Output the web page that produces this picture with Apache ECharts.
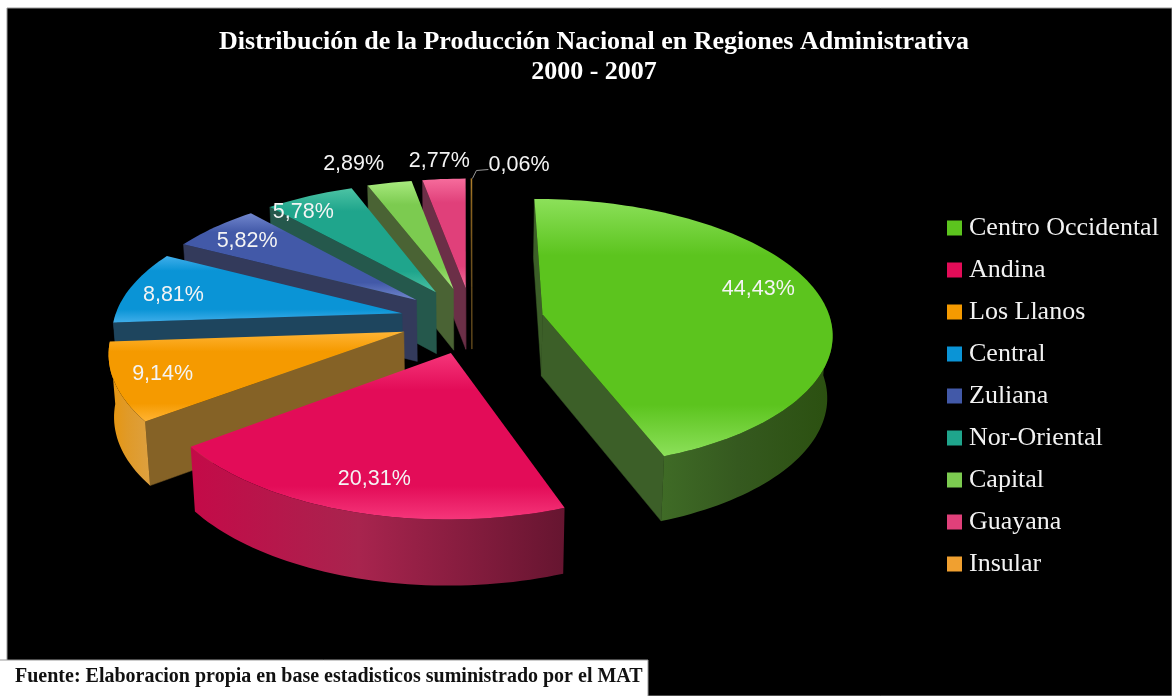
<!DOCTYPE html>
<html><head><meta charset="utf-8">
<script src="https://cdn.jsdelivr.net/npm/echarts@6/dist/echarts.min.js"></script>
<style>html,body{margin:0;padding:0;background:#fff}#c{width:1172px;height:696px}</style>
</head><body><div id="c"></div>
<script>
const regions = ['Centro Occidental','Andina','Los Llanos','Central','Zuliana','Nor-Oriental','Capital','Guayana','Insular'];
const shares = [44.43,20.31,9.14,8.81,5.82,5.78,2.89,2.77,0.06];
const titleLines = ['Distribución de la Producción Nacional en Regiones Administrativa','2000 - 2007'];
const sourceNote = 'Fuente: Elaboracion propia en base estadisticos suministrado por el MAT';

// styles
const topLight = ['#8CE05A','#F5367A','#FFB434','#40AEEA','#7287CE','#4CC3A4','#A8EA7E','#F66C9C','#C08A30'];
const topMid   = ['#5CC41E','#E30C58','#F59A00','#0A94D6','#4259A8','#1FA58C','#7CCB50','#E0407A','#A07020'];
const flatCol  = ['#3C5F28','#7A1A3A','#856226','#1E455E','#333A5B','#25584C','#4A6334','#6B2F47','#6A5020'];
const wallStops = [
  ['#3F6B26','#35591F','#2B5010'],['#C40A48','#A8244E','#661530'],['#E8950A','#E09A28','#DDA040'],
  ['#1E455E','#1E455E','#1E455E'],['#333A5B','#333A5B','#333A5B'],['#25584C','#25584C','#25584C'],
  ['#4A6334','#4A6334','#4A6334'],['#6B2F47','#6B2F47','#6B2F47'],['#6A5020','#6A5020','#6A5020']];
const legendCol = ['#5CC41E','#E30C58','#F59A00','#0A94D6','#4259A8','#1FA58C','#7CCB50','#E0407A','#F0A030'];

// layout of the tilted pie
const G = {cx:472,cy:320,rx:288,ry:133,kx:0.13,ky:0.14,kz:0.05,depth:62,baseShrink:0.015,explode:0.25};
// label anchors in disk coordinates: [angle offset from slice bisector in degrees, radius]
const labelAnchor = [[-4.4,.805],[-0.6,.815],[0,.84],[-2,.83],[-1,.815],[-6,.875],[-4.5,1.233],[-0.2,1.19],[9.7,1.16]];

const total = shares.reduce((a,b)=>a+b,0);
const starts = []; shares.reduce((acc,v,i)=>{starts[i]=acc;return acc+v;},0);
const rad = d=>d*Math.PI/180;

function proj(u,v,z){
  return [G.cx+G.rx*u*(1-G.baseShrink*z)/(1-G.kx*v), G.cy+G.ry*v/(1-G.ky*v)+z*G.depth/(1-G.kz*v)];
}
function renderSlice(i){
  return function(params,api){
    const val = api.value(0);
    const a0 = starts[i]/total*360, a1 = a0+val/total*360, bis=(a0+a1)/2;
    const ox = G.explode*Math.sin(rad(bis)), oy = -G.explode*Math.cos(rad(bis));
    const P = (deg,r,z)=>proj(ox+r*Math.sin(rad(deg)),oy-r*Math.cos(rad(deg)),z);
    const n = Math.max(2,Math.ceil((a1-a0)/1.5));
    const arcT=[],wall=[];
    for(let j=0;j<=n;j++){
      const d=a0+(a1-a0)*j/n;
      arcT.push(P(d,1,0));
      if(-Math.cos(rad(d))>-0.02) wall.push(d);
    }
    const apexT=P(a0,0,0), apexB=P(a0,0,1);
    const kids=[];
    // flat cut faces that face the viewer
    [[a0,-1],[a1,1]].forEach(f=>{
      if(f[1]*Math.sin(rad(f[0]))>-0.02){
        kids.push({type:'polygon',shape:{points:[apexT,P(f[0],1,0),P(f[0],1,1),apexB]},
          style:{fill:flatCol[i],stroke:flatCol[i],lineWidth:.5},silent:true});
      }
    });
    // outer curved wall, front part only
    if(wall.length>1){
      const t=wall.map(d=>P(d,1,0)), b=wall.map(d=>P(d,1,1)).reverse();
      const st=wallStops[i];
      const fill=new echarts.graphic.LinearGradient(0,0,1,0,[{offset:0,color:st[0]},{offset:.45,color:st[1]},{offset:1,color:st[2]}]);
      kids.push({type:'polygon',shape:{points:t.concat(b)},style:{fill:fill},silent:true});
    }
    // top surface
    const topFill=new echarts.graphic.LinearGradient(0,0,0,1,[
      {offset:0,color:topLight[i]},{offset:.22,color:topMid[i]},{offset:.8,color:topMid[i]},{offset:1,color:topLight[i]}]);
    kids.push({type:'polygon',shape:{points:[apexT].concat(arcT)},style:{fill:topFill},silent:true});
    // label
    const la=labelAnchor[i];
    const L=P(bis+la[0],la[1],0);
    kids.push({type:'text',style:{text:val.toFixed(2).replace('.',',')+'%',x:L[0],y:L[1],fill:'#F4F4F4',
      font:'21.5px "Liberation Sans"',textAlign:'center',textVerticalAlign:'middle'},silent:true});
    if(val<0.5){
      const o=P(bis,1,0);
      kids.push({type:'polyline',shape:{points:[[o[0]+1,o[1]],[o[0]+5,o[1]-8],[o[0]+17,o[1]-9]]},style:{stroke:'#9A9A9A',lineWidth:1,fill:null},silent:true});
    }
    return {type:'group',children:kids};
  };
}
// back-to-front painting order
const paintOrder=[8,7,6,5,4,3,2,0,1];
const series=regions.map((name,i)=>({
  type:'custom',name:name,coordinateSystem:'none',silent:true,animation:false,
  z:2+paintOrder.indexOf(i),
  itemStyle:{color:legendCol[i]},
  data:[[shares[i]]],renderItem:renderSlice(i)
}));

const chart=echarts.init(document.getElementById('c'),null,{renderer:'canvas'});
chart.setOption({
  animation:false,
  title:{text:titleLines.join('\n'),left:589,top:22,textAlign:'center',
    textStyle:{color:'#fff',fontFamily:'"Liberation Serif"',fontWeight:'bold',fontSize:26,lineHeight:30}},
  legend:{orient:'vertical',left:942,top:210,itemWidth:15,itemHeight:15,itemGap:16,icon:'rect',
    data:regions,selectedMode:false,
    textStyle:{color:'#F2F2F2',fontFamily:'"Liberation Serif"',fontSize:26,padding:[0,0,0,2]}},
  graphic:[
    {type:'rect',z:-10,silent:true,shape:{x:7,y:8,width:1165,height:688},style:{fill:'#000',stroke:'#999',lineWidth:1}},
    {type:'rect',z:-9,silent:true,shape:{x:-2,y:660,width:650,height:40},style:{fill:'#fff',stroke:'#999',lineWidth:1}},
    {type:'text',z:-8,silent:true,style:{text:sourceNote,x:15,y:677,fill:'#111',font:'bold 20px "Liberation Serif"',textVerticalAlign:'middle'}}
  ],
  series:series
});
</script></body></html>
